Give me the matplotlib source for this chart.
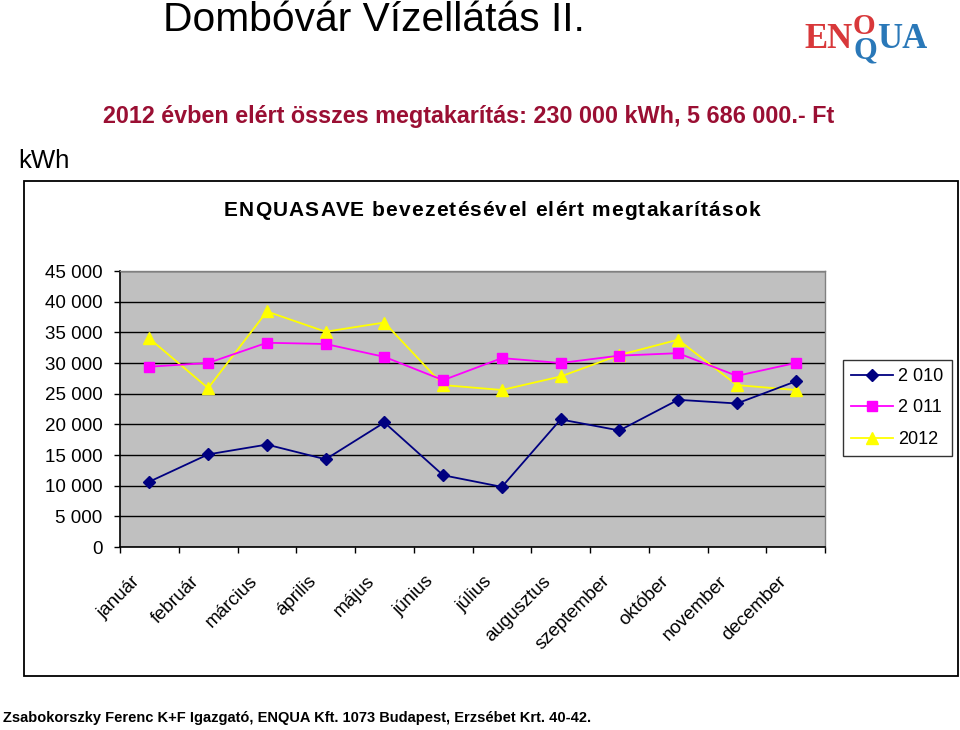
import matplotlib
matplotlib.use("Agg")
import matplotlib.pyplot as plt
from matplotlib.patches import Rectangle
from matplotlib.ticker import FuncFormatter, MultipleLocator, FixedLocator

plt.rcParams['font.family'] = ['Liberation Sans', 'DejaVu Sans']

months = ["január", "február", "március", "április", "május", "június",
          "július", "augusztus", "szeptember", "október", "november", "december"]
series_names = ["2 010", "2 011", "2012"]
v2010 = [10650, 15100, 16700, 14300, 20300, 11700, 9800, 20800, 19000, 24000, 23400, 27000]
v2011 = [29400, 30000, 33300, 33100, 31000, 27200, 30800, 30000, 31200, 31600, 27900, 30000]
v2012 = [34000, 25900, 38400, 35100, 36600, 26400, 25600, 27800, 31300, 33800, 26400, 25600]

W, H = 960, 730
fig = plt.figure(figsize=(W / 100, H / 100), dpi=100)
fig.patch.set_facecolor("white")
renderer = fig.canvas.get_renderer()


def fx(px):
    return px / W


def fy(py):
    return 1 - py / H


# outer chart box
fig.patches.append(Rectangle((fx(24), fy(676)), fx(958) - fx(24), fy(181) - fy(676),
                             transform=fig.transFigure, fill=False, edgecolor="black",
                             linewidth=1.3, zorder=0))

ax = fig.add_axes([fx(120), fy(547), fx(825) - fx(120), fy(271) - fy(547)])
ax.set_facecolor("#C0C0C0")

x = list(range(len(months)))
ax.plot(x, v2010, color="#000080", marker="D", markersize=6.5, linewidth=1.3,
        label=series_names[0], zorder=5)
ax.plot(x, v2011, color="#FF00FF", marker="s", markersize=6.5, linewidth=1.3,
        label=series_names[1], zorder=4)
ax.plot(x, v2012, color="#FFFF00", marker="^", markersize=8.5, linewidth=1.3,
        label=series_names[2], zorder=3)

ax.set_xlim(-0.5, len(months) - 0.5)
ax.set_ylim(0, 45000)
ax.yaxis.set_major_locator(MultipleLocator(5000))
ax.yaxis.set_major_formatter(FuncFormatter(lambda v, p: f"{int(v):,}".replace(",", " ")))
ax.grid(axis="y", color="black", linewidth=1.0, zorder=1)
ax.set_axisbelow(True)

ax.set_xticks(x)
ax.set_xticklabels([])
ax.xaxis.set_minor_locator(FixedLocator([i - 0.5 for i in range(len(months) + 1)]))
ax.tick_params(axis="x", which="major", length=0)
ax.tick_params(axis="x", which="minor", length=4.5, width=1.0, color="black", direction="out")
ax.tick_params(axis="y", length=4.5, width=1.0, direction="out", labelsize=13.5, pad=8)

for i, m in enumerate(months):
    ax.annotate(m, xy=(i, 0), xycoords=ax.get_xaxis_transform(),
                xytext=(-13, -18.4), textcoords="offset points",
                rotation=45, ha="right", va="top", rotation_mode="anchor",
                fontsize=13.5, color="black", annotation_clip=False)

for s in ["top", "right"]:
    ax.spines[s].set_color("#808080")
    ax.spines[s].set_linewidth(1.0)
for s in ["left", "bottom"]:
    ax.spines[s].set_color("black")
    ax.spines[s].set_linewidth(1.2)

leg = ax.legend(loc="center", bbox_to_anchor=(fx(897.5), fy(408)),
                bbox_transform=fig.transFigure, frameon=True, fancybox=False,
                edgecolor="black", fontsize=13, handlelength=2.3, labelspacing=0.8,
                borderpad=0.45, handletextpad=0.3)
leg.get_frame().set_linewidth(1.0)

# texts
fig.text(fx(163), fy(20), "Dombóvár Vízellátás II.", fontsize=29.3, ha="left", va="center",
         color="black")
fig.text(fx(103), fy(117), "2012 évben elért összes megtakarítás: 230 000 kWh, 5 686 000.- Ft",
         fontsize=16.8, fontweight="bold", ha="left", va="center", color="#9A0F33")
fig.text(fx(18), fy(161), "kWh", fontsize=18.5, ha="left", va="center", color="black")
fig.text(fx(3), fy(718), "Zsabokorszky Ferenc K+F Igazgató, ENQUA Kft. 1073 Budapest, Erzsébet Krt. 40-42.",
         fontsize=10.5, fontweight="bold", ha="left", va="center", color="black")

# letter-spaced chart title
chart_title = "ENQUASAVE bevezetésével elért megtakarítások"
tkw = dict(fontsize=15, fontweight="bold", color="black", va="center", ha="left")


def text_w(s):
    t = fig.text(0, 0, s + "x", **tkw)
    w1 = t.get_window_extent(renderer).width
    t.remove()
    t = fig.text(0, 0, "x", **tkw)
    w2 = t.get_window_extent(renderer).width
    t.remove()
    return w1 - w2


natural = text_w(chart_title)
target = 536.0
gap = (target - natural) / (len(chart_title) - 1)
x0 = 224.0
for i, ch in enumerate(chart_title):
    if ch == " ":
        continue
    px = x0 + text_w(chart_title[:i]) + gap * i
    fig.text(fx(px), fy(210), ch, **tkw)

# logo
red = "#D8383A"
blue = "#2A78B8"
fig.text(fx(804), fy(40), "EN", fontsize=25, family="Liberation Serif", fontweight="bold",
         color=red, ha="left", va="center")
fig.text(fx(865), fy(51), "Q", fontsize=22, family="Liberation Serif", fontweight="bold",
         color=blue, ha="center", va="center")
fig.text(fx(864), fy(27), "O", fontsize=21, family="Liberation Serif", fontweight="bold",
         color=red, ha="center", va="center")
fig.text(fx(877), fy(40), "UA", fontsize=25, family="Liberation Serif", fontweight="bold",
         color=blue, ha="left", va="center")

fig.savefig("out.png", dpi=100)
